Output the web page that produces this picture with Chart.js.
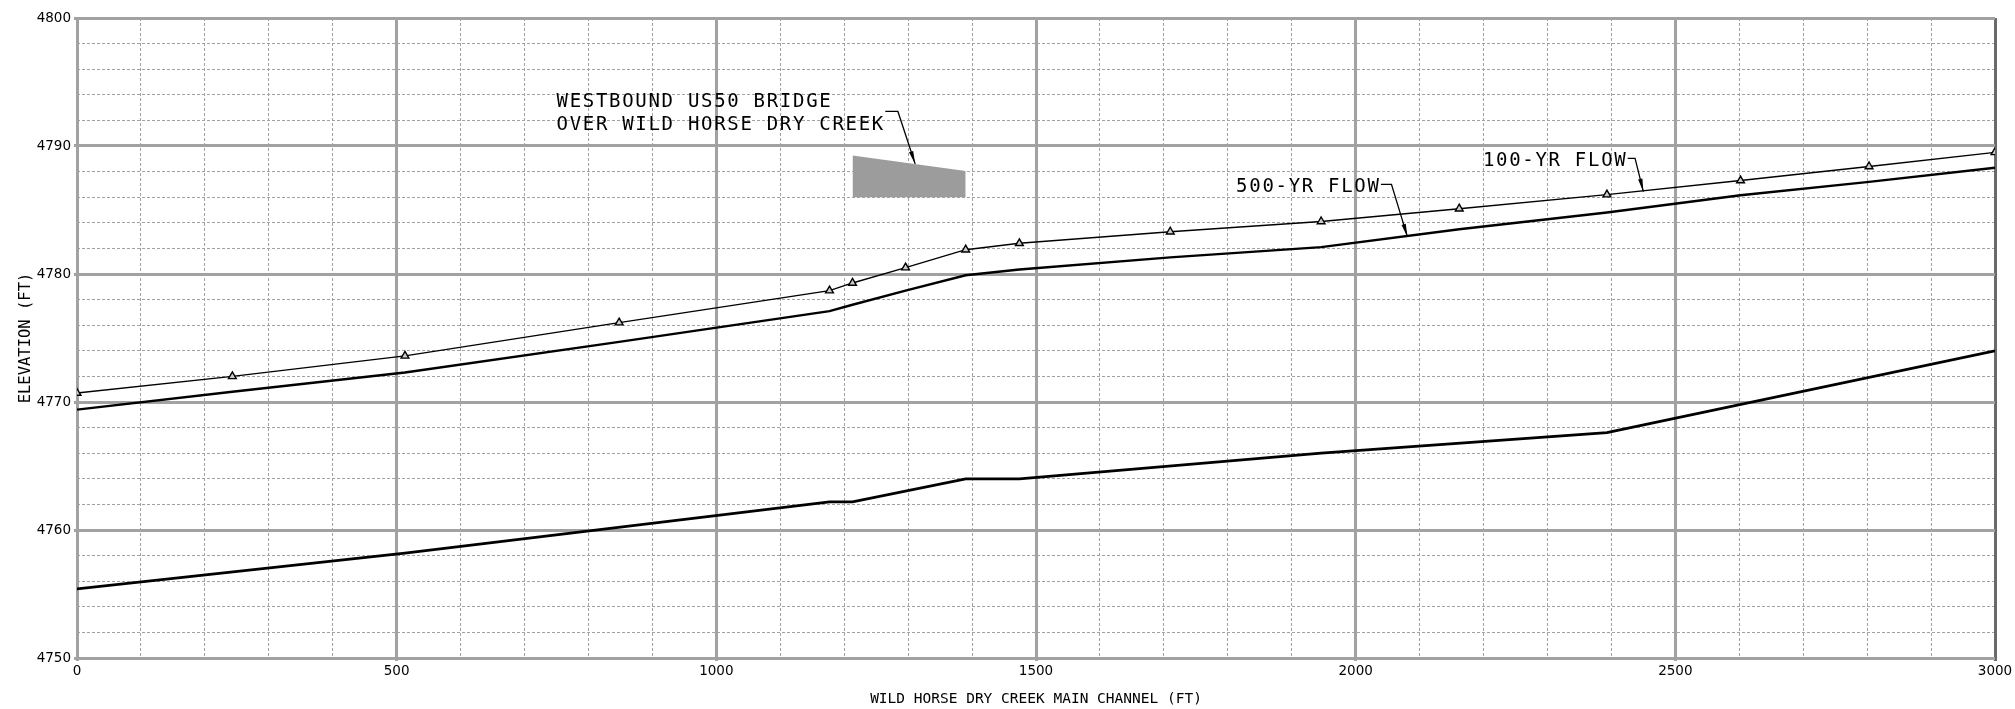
<!DOCTYPE html>
<html>
<head>
<meta charset="utf-8">
<script src="https://cdn.jsdelivr.net/npm/chart.js@4/dist/chart.umd.min.js"></script>
<style>
  html, body { margin: 0; padding: 0; background: #fff; }
  #wrap { width: 2015px; height: 709px; }
</style>
</head>
<body>
<div id="wrap"><canvas id="profile"></canvas></div>
<script>
// stations (ft) along the main channel and water surface / bed elevations (ft)
let stations = [0, 243, 513, 848, 1177, 1213, 1296, 1390, 1474, 1710, 1946, 2162, 2393, 2602, 2803, 3000];
let flow100 = [4770.7, 4772.0, 4773.6, 4776.2, 4778.7, 4779.3, 4780.5, 4781.9, 4782.4, 4783.3, 4784.1, 4785.1, 4786.2, 4787.3, 4788.4, 4789.5];
let flow500 = [4769.4, 4770.8, 4772.3, 4774.7, 4777.1, 4777.6, 4778.7, 4779.9, 4780.35, 4781.3, 4782.1, 4783.5, 4784.8, 4786.15, 4787.2, 4788.3];

let bedStations = [0, 513, 1177, 1213, 1390, 1474, 1946, 2393, 3000];
let bedElev = [4755.4, 4758.2, 4762.2, 4762.2, 4764.0, 4764.0, 4766.0, 4767.6, 4774.0];

// bridge deck outline
let bridgeStations = [1213, 1390];
let bridgeTop = [4789.25, 4788.05];
let bridgeLow = [4786.0, 4786.0];

let xTicks = [0, 500, 1000, 1500, 2000, 2500, 3000];
let yTicks = [4750, 4760, 4770, 4780, 4790, 4800];

let pts = (xs, ys) => xs.map((x, i) => ({x: x, y: ys[i]}));

// callouts: text + leader line, all in data units
let callouts = [
  {lines: ['WESTBOUND US50 BRIDGE', 'OVER WILD HORSE DRY CREEK'], x: 750, y: [4793.07, 4791.25],
   elbow: {x: 1284, y: 4792.7}, tip: {x: 1311, y: 4788.6}},
  {lines: ['500-YR FLOW'], x: 1813, y: [4786.43], elbow: {x: 2056, y: 4787.0}, tip: {x: 2081, y: 4782.9}},
  {lines: ['100-YR FLOW'], x: 2199, y: [4788.46], elbow: {x: 2437, y: 4789.04}, tip: {x: 2450, y: 4786.43}},
];

let cadFont = '19px "DejaVu Sans Mono"';
let gridGray = '#a2a2a2';

let calloutPlugin = {
  id: 'callouts',
  afterDatasetsDraw(chart) {
    let ctx = chart.ctx;
    let sx = chart.scales.x, sy = chart.scales.y;
    ctx.save();
    ctx.font = cadFont;
    ctx.letterSpacing = '1.7px';
    ctx.fillStyle = '#000';
    ctx.strokeStyle = '#000';
    ctx.textBaseline = 'alphabetic';
    ctx.lineWidth = 1.3;
    callouts.forEach(c => {
      let left = sx.getPixelForValue(c.x);
      let endX = left;
      c.lines.forEach((t, i) => {
        let by = sy.getPixelForValue(c.y[i]);
        ctx.fillText(t, left, by);
        endX = Math.max(endX, left + ctx.measureText(t).width - 1.7);
      });
      let ex = sx.getPixelForValue(c.elbow.x), ey = sy.getPixelForValue(c.elbow.y);
      let tx = sx.getPixelForValue(c.tip.x), ty = sy.getPixelForValue(c.tip.y);
      ctx.beginPath();
      ctx.moveTo(endX + 2, ey);
      ctx.lineTo(ex, ey);
      ctx.lineTo(tx, ty);
      ctx.stroke();
      // arrow head
      let a = Math.atan2(ty - ey, tx - ex);
      let len = 13, half = 2.2;
      ctx.beginPath();
      ctx.moveTo(tx, ty);
      ctx.lineTo(tx - len * Math.cos(a) + half * Math.sin(a), ty - len * Math.sin(a) - half * Math.cos(a));
      ctx.lineTo(tx - len * Math.cos(a) - half * Math.sin(a), ty - len * Math.sin(a) + half * Math.cos(a));
      ctx.closePath();
      ctx.fill();
    });
    ctx.restore();
  }
};

let renderChart = () => {
  let canvas = document.getElementById('profile');

  new Chart(canvas, {
    type: 'line',
    data: {
      datasets: [
        {
          label: 'bridge',
          data: pts(bridgeStations, bridgeTop),
          borderWidth: 0,
          pointRadius: 0,
          backgroundColor: '#9c9c9c',
          fill: '+1',
        },
        {
          label: 'bridge low',
          data: pts(bridgeStations, bridgeLow),
          borderWidth: 0,
          pointRadius: 0,
          fill: false,
        },
        {
          label: '100-YR FLOW',
          data: pts(stations, flow100),
          borderColor: '#000',
          borderWidth: 1.4,
          pointStyle: 'triangle',
          pointRadius: 4.5,
          pointBorderWidth: 1.4,
          pointBorderColor: '#000',
          pointBackgroundColor: '#ccc',
          fill: false,
        },
        {
          label: '500-YR FLOW',
          data: pts(stations, flow500),
          borderColor: '#000',
          borderWidth: 2.4,
          pointRadius: 0,
          fill: false,
        },
        {
          label: 'CHANNEL BED',
          data: pts(bedStations, bedElev),
          borderColor: '#000',
          borderWidth: 2.8,
          pointRadius: 0,
          fill: false,
        },
      ],
    },
    options: {
      responsive: false,
      animation: false,
      layout: {padding: {top: 18, right: 20, left: 0, bottom: 0}},
      plugins: {legend: {display: false}, tooltip: {enabled: false}},
      elements: {line: {tension: 0}},
      scales: {
        xMinor: {
          type: 'linear', position: 'bottom', min: 0, max: 3000,
          ticks: {display: false, stepSize: 100},
          grid: {color: gridGray, lineWidth: 1, drawTicks: false},
          border: {display: false, dash: [3, 2]},
          afterFit: s => { s.height = 0; },
        },
        yMinor: {
          type: 'linear', position: 'left', min: 4750, max: 4800,
          ticks: {display: false, stepSize: 2},
          grid: {color: gridGray, lineWidth: 1, drawTicks: false},
          border: {display: false, dash: [3, 2]},
          afterFit: s => { s.width = 0; },
        },
        x: {
          type: 'linear', position: 'bottom', min: 0, max: 3000,
          afterBuildTicks: s => { s.ticks = xTicks.map(v => ({value: v})); },
          ticks: {
            autoSkip: false, maxRotation: 0, padding: 2, color: '#000',
            font: {family: 'DejaVu Sans', size: 13.5},
            callback: v => String(v),
          },
          grid: {
            color: c => c.tick && c.tick.value === 3000 ? '#6a6a6a' : gridGray,
            lineWidth: 3, tickLength: 3,
          },
          border: {display: false},
          title: {
            display: true, text: 'WILD HORSE DRY CREEK MAIN CHANNEL (FT)', color: '#000',
            font: {family: 'DejaVu Sans Mono', size: 14.5}, padding: {top: 0, bottom: 1},
          },
          afterFit: s => { s.height = 51; },
        },
        y: {
          type: 'linear', position: 'left', min: 4750, max: 4800,
          afterBuildTicks: s => { s.ticks = yTicks.map(v => ({value: v})); },
          ticks: {
            autoSkip: false, padding: 3, color: '#000',
            font: {family: 'DejaVu Sans', size: 13.5},
            callback: v => String(v),
          },
          grid: {color: gridGray, lineWidth: 3, tickLength: 3},
          border: {display: false},
          title: {
            display: true, text: 'ELEVATION (FT)', color: '#000',
            font: {family: 'DejaVu Sans Mono', size: 15.5}, padding: {top: 17, bottom: 0},
          },
          afterFit: s => { s.width = 77; },
        },
      },
    },
    plugins: [calloutPlugin],
  });
};

let c = document.getElementById('profile');
c.width = 2015;
c.height = 709;
renderChart();
</script>
</body>
</html>
